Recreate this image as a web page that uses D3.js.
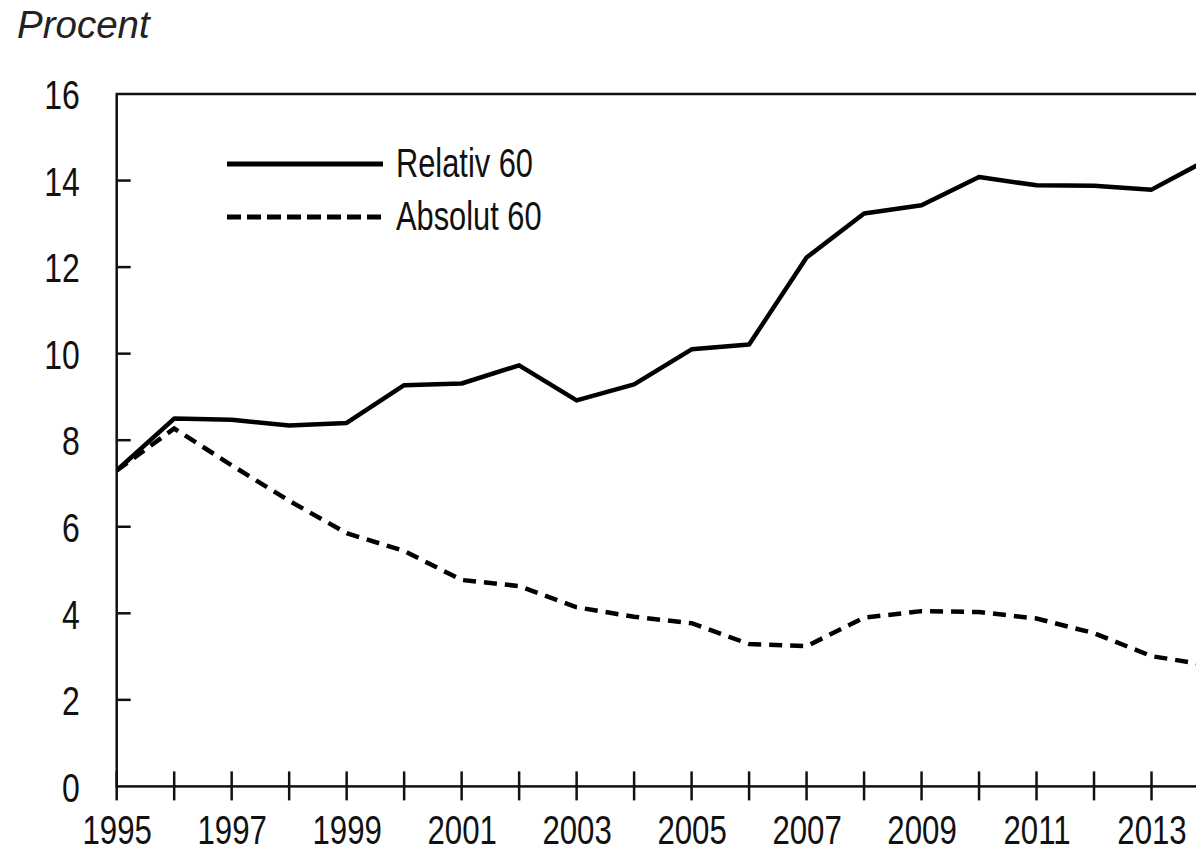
<!DOCTYPE html>
<html><head><meta charset="utf-8">
<script src="https://cdn.jsdelivr.net/npm/d3@7"></script>
<style>
html,body{margin:0;padding:0;background:#fff;}
svg{display:block;}
</style></head>
<body>
<svg id="chart" width="1196" height="853"></svg>
<script>
const years = [1995,1996,1997,1998,1999,2000,2001,2002,2003,2004,2005,2006,2007,2008,2009,2010,2011,2012,2013,2014];
const relativ60 = [7.3,8.5,8.47,8.34,8.4,9.27,9.31,9.73,8.92,9.29,10.1,10.21,12.22,13.24,13.43,14.08,13.89,13.88,13.79,14.5];
const absolut60 = [7.3,8.27,7.42,6.6,5.85,5.44,4.77,4.63,4.14,3.92,3.77,3.29,3.24,3.9,4.05,4.03,3.88,3.54,3.01,2.8];
const yTicks = [0,2,4,6,8,10,12,14,16];
const xLabelYears = [1995,1997,1999,2001,2003,2005,2007,2009,2011,2013];
const seriesNames = ["Relativ 60","Absolut 60"];
const yTitle = "Procent";

(function(){
const svg = d3.select("#chart");
const pLeft = 116.7, pRight = 1209, pTop = 94, pBottom = 786.4;
const x = d3.scaleLinear().domain([1995,2014]).range([pLeft,pRight]);
const y = d3.scaleLinear().domain([0,16]).range([pBottom,pTop]);
const numFont = "'Liberation Sans',Arial,sans-serif";
const numScale = 0.78;
const legFont = "'Liberation Sans',Arial,sans-serif";

// frame
svg.append("rect").attr("x",pLeft).attr("y",pTop).attr("width",pRight-pLeft).attr("height",pBottom-pTop)
  .attr("fill","none").attr("stroke","#111").attr("stroke-width",2.5);

// y axis (ticks inside)
const yAxis = svg.append("g").attr("transform",`translate(${pLeft},0)`)
  .call(d3.axisLeft(y).tickValues(yTicks).tickSize(0).tickPadding(37).tickFormat(d3.format("d")));
yAxis.select(".domain").remove();
yAxis.selectAll("text").attr("font-family",numFont).attr("font-size",41).attr("fill","#111")
  .attr("dy","0.36em").attr("x",0).attr("transform",`translate(-37,0) scale(${numScale},1)`);
svg.append("g").selectAll("line").data(yTicks.filter(d=>d>0&&d<16)).join("line")
  .attr("x1",pLeft).attr("x2",pLeft+14).attr("y1",d=>y(d)).attr("y2",d=>y(d))
  .attr("stroke","#111").attr("stroke-width",2.5);

// x axis ticks crossing
svg.append("g").selectAll("line").data(years).join("line")
  .attr("x1",d=>x(d)).attr("x2",d=>x(d)).attr("y1",pBottom-15).attr("y2",pBottom+14)
  .attr("stroke","#111").attr("stroke-width",2.5);
const xAxis = svg.append("g").attr("transform",`translate(0,${pBottom})`)
  .call(d3.axisBottom(x).tickValues(xLabelYears).tickSize(0).tickPadding(0).tickFormat(d3.format("d")));
xAxis.select(".domain").remove();
xAxis.selectAll("text").attr("font-family",numFont).attr("font-size",40).attr("fill","#111")
  .attr("dy",null).attr("y",58).attr("transform",`scale(${numScale},1)`);

// title
svg.append("text").attr("x",17).attr("y",38).text(yTitle)
  .attr("font-family","'Liberation Sans',Arial,sans-serif").attr("font-style","italic")
  .attr("font-size",38.5).attr("fill","#222");

// lines
svg.append("clipPath").attr("id","clip").append("rect")
  .attr("x",pLeft).attr("y",pTop).attr("width",pRight-pLeft).attr("height",pBottom-pTop);
const line = d3.line().x((d,i)=>x(years[i])).y(d=>y(d));
const g = svg.append("g").attr("clip-path","url(#clip)");
g.append("path").datum(absolut60).attr("d",line).attr("fill","none").attr("stroke","#000")
  .attr("stroke-width",4.5).attr("stroke-dasharray","13,8");
g.append("path").datum(relativ60).attr("d",line).attr("fill","none").attr("stroke","#000")
  .attr("stroke-width",4.5).attr("stroke-linejoin","round");

// legend
const leg = svg.append("g");
const legY = [164,217];
leg.append("line").attr("x1",227).attr("x2",383).attr("y1",legY[0]).attr("y2",legY[0])
  .attr("stroke","#000").attr("stroke-width",5);
leg.append("line").attr("x1",227).attr("x2",383).attr("y1",legY[1]).attr("y2",legY[1])
  .attr("stroke","#000").attr("stroke-width",5).attr("stroke-dasharray","14,6");
leg.selectAll("text").data(seriesNames).join("text")
  .attr("transform",(d,i)=>`translate(396,${legY[i]+13}) scale(0.77,1)`).text(d=>d)
  .attr("font-family",legFont).attr("font-size",40).attr("fill","#111");
})();
</script>
</body></html>
